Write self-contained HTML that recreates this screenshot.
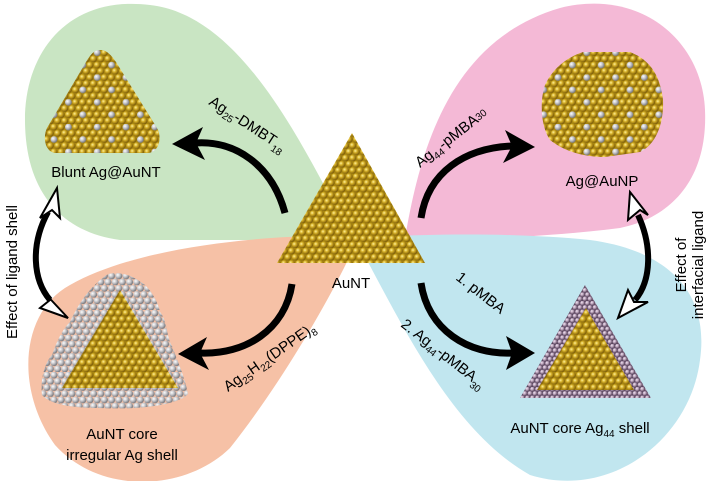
<!DOCTYPE html>
<html><head><meta charset="utf-8"><style>
html,body{margin:0;padding:0;background:#fff;}
svg{display:block;font-family:"Liberation Sans",sans-serif;}
</style></head><body>
<svg width="710" height="481" viewBox="0 0 710 481" xmlns="http://www.w3.org/2000/svg">
<defs>
<radialGradient id="gg" cx="35%" cy="35%" r="65%"><stop offset="0" stop-color="#fff3a0"/><stop offset="0.4" stop-color="#d8b22a"/><stop offset="1" stop-color="#7a5a08"/></radialGradient>
<radialGradient id="sg" cx="35%" cy="35%" r="65%"><stop offset="0" stop-color="#ffffff"/><stop offset="0.5" stop-color="#c4c4c8"/><stop offset="1" stop-color="#77777c"/></radialGradient>
<radialGradient id="pg" cx="35%" cy="35%" r="65%"><stop offset="0" stop-color="#f4e8f4"/><stop offset="0.5" stop-color="#b8a0b8"/><stop offset="1" stop-color="#5e4a60"/></radialGradient>
<pattern id="gold" width="7.2" height="12.4" patternUnits="userSpaceOnUse">
<rect width="7.2" height="12.4" fill="#a8860f"/>
<circle cx="3.6" cy="3.1" r="3.4" fill="url(#gg)"/><circle cx="0" cy="9.3" r="3.4" fill="url(#gg)"/><circle cx="7.2" cy="9.3" r="3.4" fill="url(#gg)"/>
</pattern>
<pattern id="alloy" width="28.8" height="24.8" patternUnits="userSpaceOnUse">
<rect width="28.8" height="24.8" fill="#a8860f"/>
<circle cx="3.6" cy="3.1" r="3.4" fill="url(#gg)"/><circle cx="10.8" cy="3.1" r="3.4" fill="url(#sg)"/><circle cx="18" cy="3.1" r="3.4" fill="url(#gg)"/><circle cx="25.2" cy="3.1" r="3.4" fill="url(#gg)"/>
<circle cx="0" cy="9.3" r="3.4" fill="url(#gg)"/><circle cx="7.2" cy="9.3" r="3.4" fill="url(#gg)"/><circle cx="14.4" cy="9.3" r="3.4" fill="url(#gg)"/><circle cx="21.6" cy="9.3" r="3.4" fill="url(#gg)"/><circle cx="28.8" cy="9.3" r="3.4" fill="url(#gg)"/>
<circle cx="3.6" cy="15.5" r="3.4" fill="url(#gg)"/><circle cx="10.8" cy="15.5" r="3.4" fill="url(#gg)"/><circle cx="18" cy="15.5" r="3.4" fill="url(#gg)"/><circle cx="25.2" cy="15.5" r="3.4" fill="url(#sg)"/>
<circle cx="0" cy="21.7" r="3.4" fill="url(#gg)"/><circle cx="7.2" cy="21.7" r="3.4" fill="url(#gg)"/><circle cx="14.4" cy="21.7" r="3.4" fill="url(#gg)"/><circle cx="21.6" cy="21.7" r="3.4" fill="url(#gg)"/><circle cx="28.8" cy="21.7" r="3.4" fill="url(#gg)"/>
</pattern>
<pattern id="silver" width="7.2" height="12.4" patternUnits="userSpaceOnUse">
<circle cx="3.6" cy="3.1" r="3.5" fill="url(#sg)"/><circle cx="0" cy="9.3" r="3.5" fill="url(#sg)"/><circle cx="7.2" cy="9.3" r="3.5" fill="url(#sg)"/>
</pattern>
<pattern id="purple" width="5" height="8.6" patternUnits="userSpaceOnUse">
<rect width="5" height="8.6" fill="#5a4560"/>
<circle cx="2.5" cy="2.15" r="2.4" fill="url(#pg)"/><circle cx="0" cy="6.45" r="2.4" fill="url(#pg)"/><circle cx="5" cy="6.45" r="2.4" fill="url(#pg)"/>
</pattern>
</defs>

<!-- background blobs -->
<path d="M345,225 C300,140 240,15 150,5 C70,-5 25,50 25,120 C25,190 60,232 120,240 L345,240Z" fill="#c9e5c3"/>
<path d="M405,238 C420,150 450,40 560,8 C640,-12 702,40 705,110 C708,180 670,218 620,228 C540,238 460,240 405,238Z" fill="#f4b9d6"/>
<path d="M355,236 C300,234 150,240 70,285 C20,312 15,390 55,445 C100,495 185,492 230,448 C280,385 330,300 355,245Z" fill="#f6c1a6"/>
<path d="M355,238 C400,320 450,430 530,475 C610,500 690,440 700,360 C710,290 665,250 590,240 C510,232 420,234 355,238Z" fill="#c1e6ef"/>

<!-- central AuNT -->
<polygon points="352,133 277,263 425,263" fill="url(#gold)"/>
<text x="351" y="288" font-size="15" text-anchor="middle">AuNT</text>

<!-- Blunt Ag@AuNT -->
<path d="M100,50 C93,50 90,56 86,62 L47,128 C43,136 44,152 56,153 L148,153 C160,152 162,136 157,128 L116,62 C111,55 107,50 100,50Z" fill="url(#alloy)"/>
<text x="106" y="177" font-size="15" text-anchor="middle">Blunt Ag@AuNT</text>

<!-- Ag@AuNP -->
<path d="M583,52 L630,52 C650,60 660,75 663,100 C664,125 655,145 640,152 L605,157 C585,157 565,152 550,140 C540,125 540,100 545,85 C552,70 565,58 583,52Z" fill="url(#alloy)"/>
<text x="602" y="186" font-size="15" text-anchor="middle">Ag@AuNP</text>

<!-- irregular Ag shell -->
<path d="M108,274 C125,270 138,280 145,285 C152,292 158,302 160,312 C168,322 166,336 172,346 C178,362 185,378 188,394 C178,405 140,410 100,408 C70,408 50,404 42,395 C40,380 45,362 52,355 C56,345 60,332 70,322 C78,305 88,288 108,274Z" fill="url(#silver)"/>
<polygon points="120,290 62,388 178,388" fill="url(#gold)"/>
<text x="122" y="439" font-size="15" text-anchor="middle">AuNT core</text>
<text x="122" y="460" font-size="15" text-anchor="middle">irregular Ag shell</text>

<!-- Ag44 shell -->
<polygon points="585,285 520,398 651,398" fill="url(#purple)"/>
<polygon points="586,308 537,390 634,390" fill="url(#gold)"/>
<text x="580" y="433" font-size="15" text-anchor="middle">AuNT core Ag<tspan font-size="10" dy="4">44</tspan><tspan dy="-4"> shell</tspan></text>

<!-- reaction arrows -->
<g fill="none" stroke="#000" stroke-width="7">
<path d="M285,213 C272,165 235,140 195,143"/>
<path d="M421,218 C428,172 465,148 512,146"/>
<path d="M292,284 C285,330 245,355 200,353"/>
<path d="M421,283 C428,330 468,355 512,353"/>
</g>
<polygon points="172,144 203,127 196,143 205,160" fill="#000"/>
<polygon points="535,147 505,130 512,146 503,163" fill="#000"/>
<polygon points="178,354 207,337 200,353 209,370" fill="#000"/>
<polygon points="535,353 506,336 512,353 506,370" fill="#000"/>

<!-- double arrows -->
<g fill="none" stroke="#000" stroke-width="6">
<path d="M48,212 C30,245 33,280 50,300"/>
<path d="M638,215 C652,245 652,280 635,300"/>
</g>
<polygon points="57,188 60,218 52,210 40,218" fill="#fff" stroke="#000" stroke-width="2"/>
<polygon points="68,318 40,308 50,300 40,288" fill="#fff" stroke="#000" stroke-width="2"/>
<polygon points="630,192 648,215 640,210 628,220" fill="#fff" stroke="#000" stroke-width="2"/>
<polygon points="618,318 628,290 634,302 648,302" fill="#fff" stroke="#000" stroke-width="2"/>

<!-- labels -->
<text transform="translate(208,104) rotate(33)" font-size="15">Ag<tspan font-size="10" dy="4">25</tspan><tspan dy="-4">-DMBT</tspan><tspan font-size="10" dy="5">18</tspan></text>
<text transform="translate(420,168) rotate(-38)" font-size="15">Ag<tspan font-size="10" dy="4">44</tspan><tspan dy="-4">-pMBA</tspan><tspan font-size="10" dy="-1">30</tspan></text>
<text transform="translate(228,392) rotate(-35)" font-size="15">Ag<tspan font-size="10" dy="4">25</tspan><tspan dy="-4">H</tspan><tspan font-size="10" dy="4">22</tspan><tspan dy="-4">(DPPE)</tspan><tspan font-size="10" dy="4">8</tspan></text>
<text transform="translate(455,279) rotate(38)" font-size="15">1. pMBA</text>
<text transform="translate(400,326) rotate(38)" font-size="15">2. Ag<tspan font-size="10" dy="4">44</tspan><tspan dy="-4">-pMBA</tspan><tspan font-size="10" dy="5">30</tspan></text>
<text transform="translate(17,272) rotate(-90)" font-size="15" text-anchor="middle">Effect of ligand shell</text>
<text transform="translate(686,265) rotate(-90)" font-size="15" text-anchor="middle">Effect of</text>
<text transform="translate(703,265) rotate(-90)" font-size="15" text-anchor="middle">interfacial ligand</text>
</svg>
</body></html>
